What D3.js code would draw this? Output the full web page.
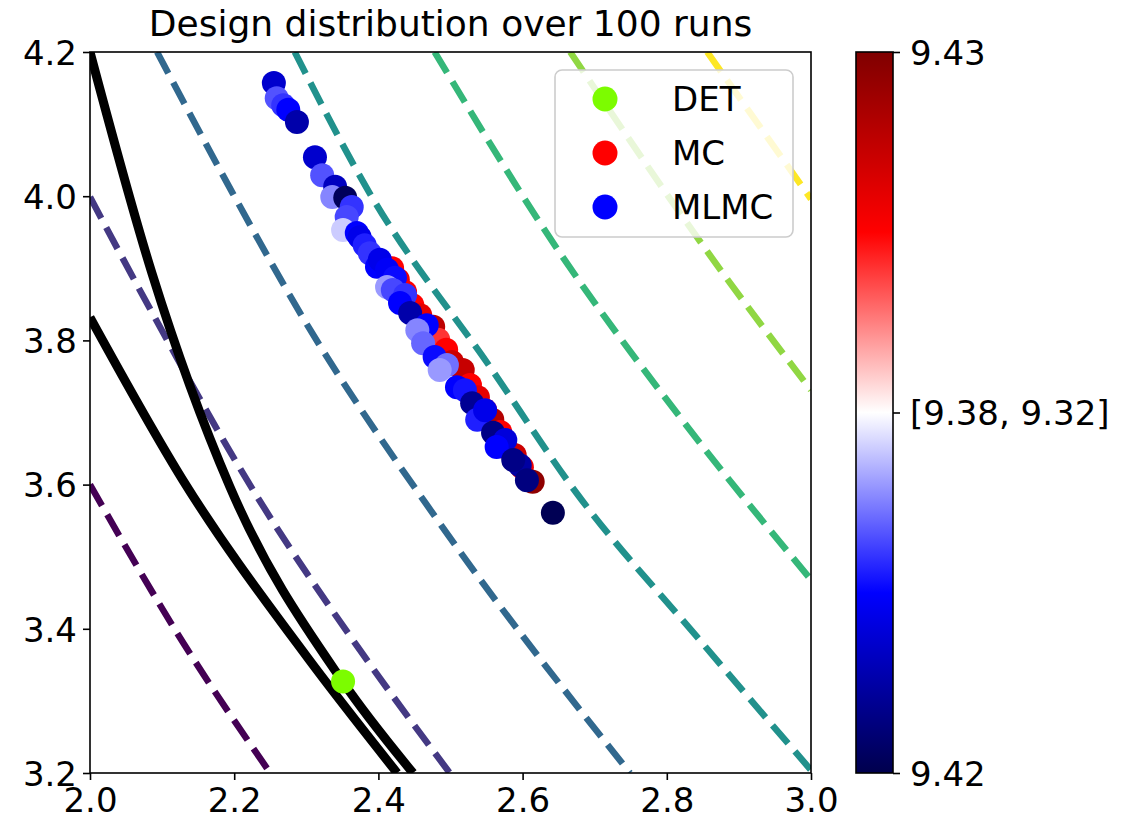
<!DOCTYPE html>
<html>
<head>
<meta charset="utf-8">
<script src="https://cdn.jsdelivr.net/npm/d3@7"></script>
<style>
  html, body { margin: 0; padding: 0; background: #ffffff; }
  svg { display: block; font-family: "DejaVu Sans", sans-serif; }
</style>
</head>
<body>
<svg id="chart" width="1126" height="824"></svg>
<script>
// ---------------- DATA ----------------
const titleText = "Design distribution over 100 runs";
const xTicks = [2.0, 2.2, 2.4, 2.6, 2.8, 3.0];
const yTicks = [3.2, 3.4, 3.6, 3.8, 4.0, 4.2];
const xDomain = [2.0, 3.0];
const yDomain = [3.2, 4.2];

// colorbar tick labels (position in colormap 0..1 -> label)
const cbarTickPos = [0, 0.5, 1];
const cbarTickLabels = ["9.42", "[9.38, 9.32]", "9.43"];

// dashed contour levels (viridis), each a polyline of [x, y]
const contourColors = ["#440154", "#443983", "#31688e", "#21918c", "#35b779", "#90d743", "#fde725"];
const contour0 = [[2.000, 3.600], [2.129, 3.381], [2.250, 3.200]];
const contour1 = [[2.000, 3.999], [2.069, 3.870], [2.232, 3.583], [2.374, 3.371], [2.499, 3.200]];
const contour2 = [[2.093, 4.200], [2.198, 4.004], [2.295, 3.832], [2.479, 3.555], [2.749, 3.200]];
const contour3 = [[2.284, 4.200], [2.388, 4.004], [2.555, 3.763], [2.675, 3.588], [2.846, 3.384], [3.000, 3.204]];
const contour4 = [[2.478, 4.200], [2.652, 3.921], [2.818, 3.694], [3.000, 3.468]];
const contour5 = [[2.666, 4.200], [2.878, 3.893], [3.000, 3.731]];
const contour6 = [[2.856, 4.200], [3.000, 3.996]];
const contours = [contour0, contour1, contour2, contour3, contour4, contour5, contour6];

// solid black constraint curves
const curveA = [[2.000, 4.200], [2.086, 3.893], [2.194, 3.597], [2.351, 3.326], [2.448, 3.200]];
const curveB = [[2.000, 3.832], [2.129, 3.606], [2.301, 3.361], [2.426, 3.200]];

// deterministic design
const detX = [2.351];
const detY = [3.327];

// MC designs (x, y, colour position 0..1 on seismic map)
const mcX = [2.419, 2.427, 2.437, 2.447, 2.458, 2.476, 2.483, 2.494, 2.502, 2.517, 2.527, 2.538, 2.548, 2.558, 2.569, 2.576, 2.589, 2.599, 2.614];
const mcY = [3.900, 3.884, 3.867, 3.849, 3.835, 3.819, 3.801, 3.787, 3.770, 3.759, 3.738, 3.721, 3.703, 3.690, 3.673, 3.652, 3.641, 3.624, 3.604];
const mcC = [0.75, 0.78, 0.75, 0.75, 0.80, 0.88, 0.70, 0.75, 0.85, 0.86, 0.75, 0.80, 0.75, 0.90, 0.75, 0.75, 0.85, 0.78, 0.97];

// MLMC designs
const mlmcX = [2.255, 2.259, 2.268, 2.275, 2.287, 2.312, 2.322, 2.340, 2.336, 2.354, 2.363, 2.356, 2.351, 2.370, 2.374, 2.381,
               2.388, 2.398, 2.402, 2.412, 2.423, 2.412, 2.420, 2.437, 2.430, 2.444, 2.467, 2.454, 2.462, 2.478, 2.495, 2.485,
               2.509, 2.520, 2.530, 2.537, 2.548, 2.559, 2.576, 2.564, 2.596, 2.587, 2.606, 2.642];
const mlmcY = [4.157, 4.136, 4.126, 4.120, 4.103, 4.054, 4.029, 4.013, 3.999, 3.998, 3.985, 3.971, 3.953, 3.949, 3.943, 3.932,
               3.921, 3.902, 3.912, 3.898, 3.887, 3.874, 3.870, 3.863, 3.852, 3.838, 3.821, 3.814, 3.796, 3.777, 3.766, 3.759,
               3.735, 3.731, 3.713, 3.690, 3.703, 3.672, 3.662, 3.652, 3.627, 3.634, 3.606, 3.561];
const mlmcC = [0.18, 0.33, 0.30, 0.25, 0.13, 0.18, 0.33, 0.16, 0.38, 0.02, 0.30, 0.32, 0.45, 0.25, 0.22, 0.28,
               0.30, 0.25, 0.22, 0.24, 0.26, 0.40, 0.32, 0.30, 0.25, 0.13, 0.25, 0.38, 0.35, 0.26, 0.36, 0.40,
               0.25, 0.27, 0.10, 0.28, 0.22, 0.08, 0.20, 0.25, 0.12, 0.08, 0.07, 0.01];

const legendLabels = ["DET", "MC", "MLMC"];
const legendColors = ["#7cfc00", "#ff0000", "#0000ff"];

// ---------------- DRAW ----------------
const svg = d3.select("#chart");
const plot = { left: 90, right: 811, top: 52, bottom: 773 };
const x = d3.scaleLinear().domain(xDomain).range([plot.left, plot.right]);
const y = d3.scaleLinear().domain(yDomain).range([plot.bottom, plot.top]);

const seismic = d3.scaleLinear()
  .domain([0, 0.25, 0.5, 0.75, 1])
  .range(["#00004d", "#0000ff", "#ffffff", "#ff0000", "#800000"])
  .interpolate(d3.interpolateRgb);

const defs = svg.append("defs");
defs.append("clipPath").attr("id", "clip")
  .append("rect").attr("x", plot.left).attr("y", plot.top)
  .attr("width", plot.right - plot.left).attr("height", plot.bottom - plot.top);

const g = svg.append("g").attr("clip-path", "url(#clip)");
const line = d3.line().x(d => x(d[0])).y(d => y(d[1])).curve(d3.curveMonotoneX);

contours.forEach((c, i) => {
  g.append("path").datum(c).attr("d", line)
    .attr("fill", "none").attr("stroke", contourColors[i])
    .attr("stroke-width", 6.5).attr("stroke-dasharray", "24,10.5");
});

[curveA, curveB].forEach(c => {
  g.append("path").datum(c).attr("d", line)
    .attr("fill", "none").attr("stroke", "#000").attr("stroke-width", 9);
});

// DET
g.selectAll("circle.det").data(detX.map((v, i) => [v, detY[i]])).join("circle")
  .attr("class", "det").attr("cx", d => x(d[0])).attr("cy", d => y(d[1])).attr("r", 12)
  .attr("fill", legendColors[0]);

// MC
g.selectAll("circle.mc").data(mcX.map((v, i) => [v, mcY[i], mcC[i]])).join("circle")
  .attr("class", "mc").attr("cx", d => x(d[0])).attr("cy", d => y(d[1])).attr("r", 12)
  .attr("fill", d => seismic(d[2]));

// MLMC
g.selectAll("circle.mlmc").data(mlmcX.map((v, i) => [v, mlmcY[i], mlmcC[i]])).join("circle")
  .attr("class", "mlmc").attr("cx", d => x(d[0])).attr("cy", d => y(d[1])).attr("r", 12)
  .attr("fill", d => seismic(d[2]));

// Axes
const fontSize = 34;
const xAxis = d3.axisBottom(x).tickValues(xTicks).tickFormat(d3.format(".1f")).tickSize(7).tickPadding(6);
const yAxis = d3.axisLeft(y).tickValues(yTicks).tickFormat(d3.format(".1f")).tickSize(7).tickPadding(6);
const gx = svg.append("g").attr("transform", `translate(0,${plot.bottom})`).call(xAxis);
const gy = svg.append("g").attr("transform", `translate(${plot.left},0)`).call(yAxis);
[gx, gy].forEach(a => {
  a.select(".domain").remove();
  a.selectAll(".tick line").attr("stroke", "#000").attr("stroke-width", 1.6);
  a.selectAll(".tick text").attr("fill", "#000").style("font-size", fontSize + "px")
    .style("font-family", "DejaVu Sans");
});
gy.selectAll(".tick text").attr("dy", "0.36em");
gx.selectAll(".tick text").attr("dy", "0.76em");

svg.append("rect").attr("x", plot.left).attr("y", plot.top)
  .attr("width", plot.right - plot.left).attr("height", plot.bottom - plot.top)
  .attr("fill", "none").attr("stroke", "#000").attr("stroke-width", 1.6);

// Title
svg.append("text").attr("x", (plot.left + plot.right) / 2).attr("y", 36)
  .attr("text-anchor", "middle").style("font-size", "36px").text(titleText);

// Legend
const lg = svg.append("g");
lg.append("rect").attr("x", 555).attr("y", 70).attr("width", 238).attr("height", 167)
  .attr("rx", 7).attr("fill", "#ffffff").attr("fill-opacity", 0.8)
  .attr("stroke", "#cccccc").attr("stroke-width", 1.6);
legendLabels.forEach((lab, i) => {
  const cy = 99 + i * 54;
  lg.append("circle").attr("cx", 605).attr("cy", cy).attr("r", 12.5).attr("fill", legendColors[i]);
  lg.append("text").attr("x", 672).attr("y", cy).attr("dy", "0.36em")
    .style("font-size", fontSize + "px").text(lab);
});

// Colorbar
const cb = { left: 856, right: 893, top: 52, bottom: 773 };
const grad = defs.append("linearGradient").attr("id", "cbgrad")
  .attr("x1", 0).attr("y1", 1).attr("x2", 0).attr("y2", 0);
d3.range(0, 1.0001, 0.05).forEach(t => {
  grad.append("stop").attr("offset", t).attr("stop-color", seismic(t));
});
svg.append("rect").attr("x", cb.left).attr("y", cb.top)
  .attr("width", cb.right - cb.left).attr("height", cb.bottom - cb.top)
  .attr("fill", "url(#cbgrad)").attr("stroke", "#000").attr("stroke-width", 1.6);
const cbScale = d3.scaleLinear().domain([0, 1]).range([cb.bottom, cb.top]);
const cbAxis = d3.axisRight(cbScale).tickValues(cbarTickPos)
  .tickFormat((d, i) => cbarTickLabels[i]).tickSize(7).tickPadding(10);
const gc = svg.append("g").attr("transform", `translate(${cb.right},0)`).call(cbAxis);
gc.select(".domain").remove();
gc.selectAll(".tick line").attr("stroke", "#000").attr("stroke-width", 1.6);
gc.selectAll(".tick text").attr("fill", "#000").style("font-size", fontSize + "px")
  .style("font-family", "DejaVu Sans").attr("dy", "0.36em");
</script>
</body>
</html>
